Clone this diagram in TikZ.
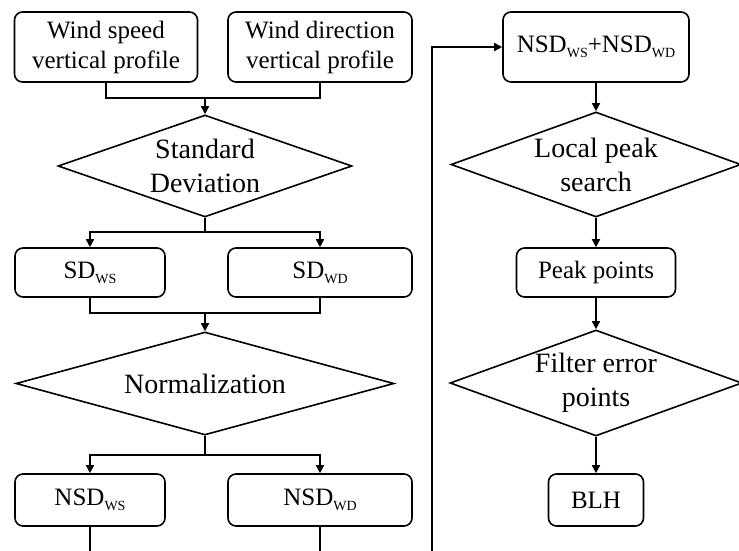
\documentclass[tikz,border=0pt]{standalone}
\usepackage{fontspec}
\setmainfont{Liberation Serif}
\usetikzlibrary{arrows.meta, shapes.geometric}

\newcommand{\lsub}[1]{\raisebox{-5pt}{\fontsize{14}{14}\selectfont #1}}

\tikzset{
  procbox/.style={draw, line width=1.6pt, rounded corners=8pt, align=center,
    inner sep=0pt, font=\fontsize{25}{30}\selectfont},
  decision/.style={draw, diamond, line width=1.6pt, align=center,
    inner sep=-8pt, aspect=2.8, font=\fontsize{28}{34}\selectfont},
  link/.style={line width=1.6pt},
  flow/.style={line width=1.6pt, -{Triangle[length=8pt,width=8pt]}},
}

\begin{document}
\begin{tikzpicture}[x=1pt, y=-1pt]
  \useasboundingbox (0,0) rectangle (739,551);
  % ---------- left column ----------
  \node[procbox, minimum width=183pt, minimum height=70pt] (wsp) at (106,47)
    {Wind speed\\vertical profile};
  \node[procbox, minimum width=184pt, minimum height=70pt] (wdp) at (320,47)
    {Wind direction\\vertical profile};
  \node[decision, minimum width=294pt, minimum height=102pt] (sdev) at (205,166)
    {Standard\\Deviation};
  \node[procbox, minimum width=150pt, minimum height=49pt] (sdws) at (90,272.5)
    {SD\lsub{WS}};
  \node[procbox, minimum width=184pt, minimum height=49pt] (sdwd) at (320,272.5)
    {SD\lsub{WD}};
  \node[decision, aspect=3.6, minimum width=378pt, minimum height=103pt] (norm) at (205,383.5)
    {Normalization};
  \node[procbox, minimum width=150pt, minimum height=52pt] (nws) at (90,500)
    {NSD\lsub{WS}};
  \node[procbox, minimum width=184pt, minimum height=52pt] (nwd) at (320,500)
    {NSD\lsub{WD}};
  % ---------- right column ----------
  \node[procbox, minimum width=186pt, minimum height=70pt] (sum) at (596,47)
    {NSD\lsub{WS}+NSD\lsub{WD}};
  \node[decision, minimum width=290pt, minimum height=105pt] (peak) at (596,164.5)
    {Local peak\\search};
  \node[procbox, minimum width=159pt, minimum height=49pt] (pts) at (596,272.5)
    {Peak points};
  \node[decision, minimum width=292pt, minimum height=106pt] (filt) at (596,383)
    {Filter error\\points};
  \node[procbox, minimum width=95pt, minimum height=52pt] (blh) at (596,500)
    {BLH};
  % ---------- joins ----------
  \coordinate (j1) at (205,98);
  \coordinate (j2) at (205,232);
  \coordinate (j3) at (205,313);
  \coordinate (j4) at (205,455);
  \coordinate (endws) at (90,551);
  \coordinate (endwd) at (320,551);
  \coordinate (loop) at (432,551);
  \draw[link] (wsp.south) |- (j1);
  \draw[link] (wdp.south) |- (j1);
  \draw[flow] (j1) -- (sdev.north);
  \draw[link] (sdev.south) -- (j2);
  \draw[flow] (j2) -| (sdws.north);
  \draw[flow] (j2) -| (sdwd.north);
  \draw[link] (sdws.south) |- (j3);
  \draw[link] (sdwd.south) |- (j3);
  \draw[flow] (j3) -- (norm.north);
  \draw[link] (norm.south) -- (j4);
  \draw[flow] (j4) -| (nws.north);
  \draw[flow] (j4) -| (nwd.north);
  \draw[link] (nws.south) -- (endws);
  \draw[link] (nwd.south) -- (endwd);
  \draw[flow] (loop) |- (sum.west);
  \draw[flow] (sum.south) -- (peak.north);
  \draw[flow] (peak.south) -- (pts.north);
  \draw[flow] (pts.south) -- (filt.north);
  \draw[flow] (filt.south) -- (blh.north);
\end{tikzpicture}
\end{document}
